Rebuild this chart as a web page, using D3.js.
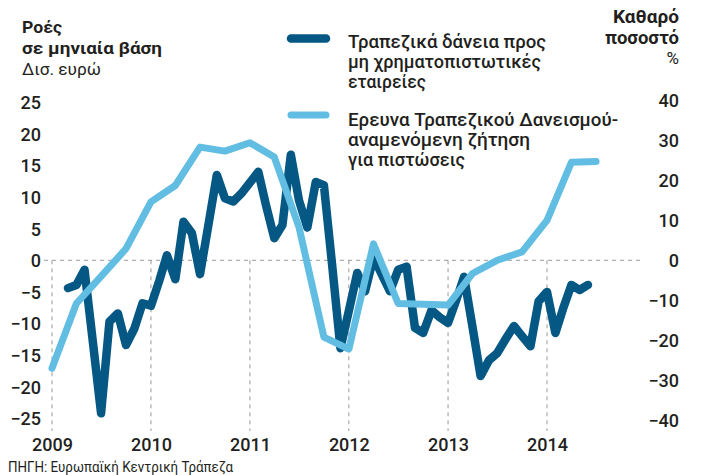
<!DOCTYPE html>
<html>
<head>
<meta charset="utf-8">
<script src="https://cdn.jsdelivr.net/npm/d3@7"></script>
<style>
  html, body { margin: 0; padding: 0; background: #fff; }
  svg { display: block; }
  text { font-family: Roboto, "Noto Sans", sans-serif; fill: #231f20; }
</style>
</head>
<body>
<svg id="chart" width="703" height="475"></svg>
<script>
// ---------------- DATA ----------------
const yearTicks = [2009, 2010, 2011, 2012, 2013, 2014];
const leftTicks = [25, 20, 15, 10, 5, 0, -5, -10, -15, -20, -25];
const rightTicks = [40, 30, 20, 10, 0, -10, -20, -30, -40];

// Monthly flows of bank loans to non-financial corporations (bn euro), from March 2009
const loanStart = "2009-03";
const loanValues = [
  -4.4, -3.9, -1.5, -13.0, -24.2, -9.7, -8.4, -13.4, -10.8, -6.8,   // 2009 Mar-Dec
  -7.2, -3.2, 0.8, -3.0, 6.1, 4.3, -2.2, 5.6, 13.5, 9.8, 9.3, 10.6,  // 2010
  12.3, 14.0, 8.8, 3.5, 5.6, 16.7, 9.5, 5.2, 12.4, 11.9, -1.0, -13.9, // 2011
  -8.0, -2.0, -4.9, 0.5, -2.2, -4.9, -1.5, -1.0, -10.7, -11.5, -7.9, -9.0, // 2012
  -9.9, -6.2, -2.6, -10.5, -18.3, -15.8, -14.7, -12.5, -10.4, -12.0, -13.6, -6.5, // 2013
  -5.0, -11.5, -7.7, -3.9, -4.7, -3.9  // 2014 Jan-Jun
];

// Quarterly Bank Lending Survey - expected loan demand (net percentage), from Q1 2009
const surveyStart = "2009-01";
const surveyValues = [
  -27.0, -10.8, -4.0, 2.9, 14.6, 18.7, 28.3, 27.3, 29.4, 25.8, 8.3, -19.2,
  -22.2, 4.1, -10.8, -11.0, -11.2, -3.3, 0.0, 2.1, 10.0, 24.5, 24.7
];

const leftTitle = ["Ροές", "σε μηνιαία βάση"];
const leftUnit = "Δισ. ευρώ";
const rightTitle = ["Καθαρό", "ποσοστό"];
const rightUnit = "%";
const legendLoans = ["Τραπεζικά δάνεια προς", "μη χρηματοπιστωτικές", "εταιρείες"];
const legendSurvey = ["Ερευνα Τραπεζικού Δανεισμού-", "αναμενόμενη ζήτηση", "για πιστώσεις"];
const sourceText = "ΠΗΓΗ: Ευρωπαϊκή Κεντρική Τράπεζα";

// ---------------- STYLE ----------------
const darkBlue = "#045883";
const lightBlue = "#62bde2";
const textColor = "#231f20";

const parseMonth = d3.timeParse("%Y-%m");
const loanSeries = loanValues.map((v, i) => ({ date: d3.timeMonth.offset(parseMonth(loanStart), i), value: v }));
const surveySeries = surveyValues.map((v, i) => ({ date: d3.timeMonth.offset(parseMonth(surveyStart), 3 * i), value: v }));

const svg = d3.select("#chart");

const x = d3.scaleTime()
  .domain([new Date(2009, 0, 1), new Date(2014, 0, 1)])
  .range([52, 547]);
const yL = d3.scaleLinear().domain([-25, 25]).range([418.3, 102.3]);
const yR = d3.scaleLinear().domain([-40, 40]).range([420.3, 100.3]);

// ---------------- GRID ----------------
const grid = svg.append("g");
grid.append("line")
  .attr("x1", 44).attr("x2", 644)
  .attr("y1", yL(0)).attr("y2", yL(0))
  .attr("stroke", "#9a9a9a").attr("stroke-width", 1).attr("stroke-dasharray", "4,4");
grid.selectAll("line.v").data(yearTicks).join("line")
  .attr("class", "v")
  .attr("x1", d => x(new Date(d, 0, 1))).attr("x2", d => x(new Date(d, 0, 1)))
  .attr("y1", yL(0)).attr("y2", 431)
  .attr("stroke", "#9a9a9a").attr("stroke-width", 1).attr("stroke-dasharray", "4,4");

// ---------------- AXES ----------------
const axL = svg.append("g").attr("transform", "translate(41,0)")
  .call(d3.axisLeft(yL).tickValues(leftTicks).tickSize(0).tickPadding(0).tickFormat(d3.format("d")));
const axR = svg.append("g").attr("transform", "translate(679,0)")
  .call(d3.axisLeft(yR).tickValues(rightTicks).tickSize(0).tickPadding(0).tickFormat(d3.format("d")));
const axB = svg.append("g").attr("transform", "translate(0,437)")
  .call(d3.axisBottom(x).tickValues(yearTicks.map(d => new Date(d, 0, 1))).tickSize(0).tickPadding(0).tickFormat(d3.timeFormat("%Y")));
[axL, axR, axB].forEach(a => {
  a.select(".domain").remove();
  a.selectAll("text")
    .attr("fill", textColor)
    .style("font-size", "18px")
    .style("font-weight", "500")
    .style("font-family", "Roboto, sans-serif");
});
axL.selectAll("text").attr("dy", "0.36em");
axR.selectAll("text").attr("dy", "0.36em");
axB.selectAll("text").attr("dy", "0.75em");

// ---------------- LINES ----------------
const lineL = d3.line().x(d => x(d.date)).y(d => yL(d.value));
const lineR = d3.line().x(d => x(d.date)).y(d => yR(d.value));

svg.append("path").datum(loanSeries)
  .attr("d", lineL).attr("fill", "none")
  .attr("stroke", darkBlue).attr("stroke-width", 8.5)
  .attr("stroke-linejoin", "round").attr("stroke-linecap", "round");
svg.append("path").datum(surveySeries)
  .attr("d", lineR).attr("fill", "none")
  .attr("stroke", lightBlue).attr("stroke-width", 7)
  .attr("stroke-linejoin", "round").attr("stroke-linecap", "round");

// ---------------- TITLES ----------------
function addText(g, str, xPos, yPos, opts) {
  const t = g.append("text").attr("x", xPos).attr("y", yPos).text(str)
    .style("font-size", opts.size + "px")
    .style("font-weight", opts.weight || "400")
    .attr("fill", opts.color || textColor);
  if (opts.anchor) t.attr("text-anchor", opts.anchor);
  if (opts.len) t.attr("textLength", opts.len).attr("lengthAdjust", "spacingAndGlyphs");
  return t;
}
const tg = svg.append("g");
addText(tg, leftTitle[0], 22, 33, { size: 17, weight: 700, len: 40 });
addText(tg, leftTitle[1], 22, 54, { size: 17, weight: 700, len: 140 });
addText(tg, leftUnit, 22, 75, { size: 17, weight: 400, len: 79 });

addText(tg, rightTitle[0], 679, 22.5, { size: 17.5, weight: 700, anchor: "end", len: 66 });
addText(tg, rightTitle[1], 679, 44, { size: 17.5, weight: 700, anchor: "end", len: 74 });
addText(tg, rightUnit, 679, 64, { size: 17, weight: 400, anchor: "end" });

// ---------------- LEGEND ----------------
const lg = svg.append("g");
lg.append("line").attr("x1", 291).attr("x2", 326).attr("y1", 38.5).attr("y2", 38.5)
  .attr("stroke", darkBlue).attr("stroke-width", 8.5).attr("stroke-linecap", "round");
lg.append("line").attr("x1", 291).attr("x2", 326).attr("y1", 115).attr("y2", 115)
  .attr("stroke", lightBlue).attr("stroke-width", 7).attr("stroke-linecap", "round");
const loanLens = [198, 193, 78];
const surveyLens = [270, 182, 117];
legendLoans.forEach((s, i) => addText(lg, s, 348, 47.5 + 20 * i, { size: 17.5, weight: 500, len: loanLens[i] }));
legendSurvey.forEach((s, i) => addText(lg, s, 348, 126 + 20 * i, { size: 17.5, weight: 500, len: surveyLens[i] }));

// ---------------- SOURCE ----------------
addText(svg, sourceText, 8, 472, { size: 14, weight: 400, color: "#444", len: 225 });
</script>
</body>
</html>
